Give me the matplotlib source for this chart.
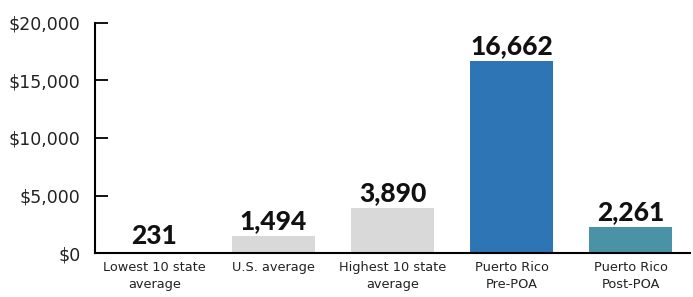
import matplotlib
matplotlib.use("Agg")
import matplotlib.pyplot as plt
from matplotlib.ticker import FuncFormatter

categories = ["Lowest 10 state\naverage", "U.S. average", "Highest 10 state\naverage",
              "Puerto Rico\nPre-POA", "Puerto Rico\nPost-POA"]
values = [231, 1494, 3890, 16662, 2261]
colors = ["#FFFFFF", "#D9D9D9", "#D9D9D9", "#2E75B6", "#4A93A6"]

plt.rcParams['font.family'] = ['DejaVu Sans']
fig = plt.figure(figsize=(6.93, 2.97), dpi=100)
ax = fig.add_axes([0.137, 0.148, 0.859, 0.775])
x = range(len(values))
ax.bar(x, values, width=0.7, color=colors, zorder=1)
for i, v in enumerate(values):
    ax.annotate(f"{v:,}", (i, v), xytext=(0, 2), textcoords="offset points",
                ha="center", va="bottom", fontsize=19, fontweight="black",
                color="#111111", family=["Lato", "DejaVu Sans"])
ax.set_xlim(-0.5, 4.5)
ax.set_ylim(0, 20000)
ax.set_yticks([0, 5000, 10000, 15000, 20000])
ax.yaxis.set_major_formatter(FuncFormatter(lambda v, p: f"${v:,.0f}"))
ax.set_xticks(list(x))
ax.set_xticklabels(categories, fontsize=9.3, linespacing=1.35, color="#222222")
ax.tick_params(axis="x", length=0, pad=6)
ax.tick_params(axis="y", length=9, width=1.3, labelsize=12.5, pad=10.5,
               direction="in", labelcolor="#222222")
for s in ["top", "right"]:
    ax.spines[s].set_visible(False)
for s in ["left", "bottom"]:
    ax.spines[s].set_linewidth(1.5)
    ax.spines[s].set_zorder(3)
fig.savefig("out.png", dpi=100)
